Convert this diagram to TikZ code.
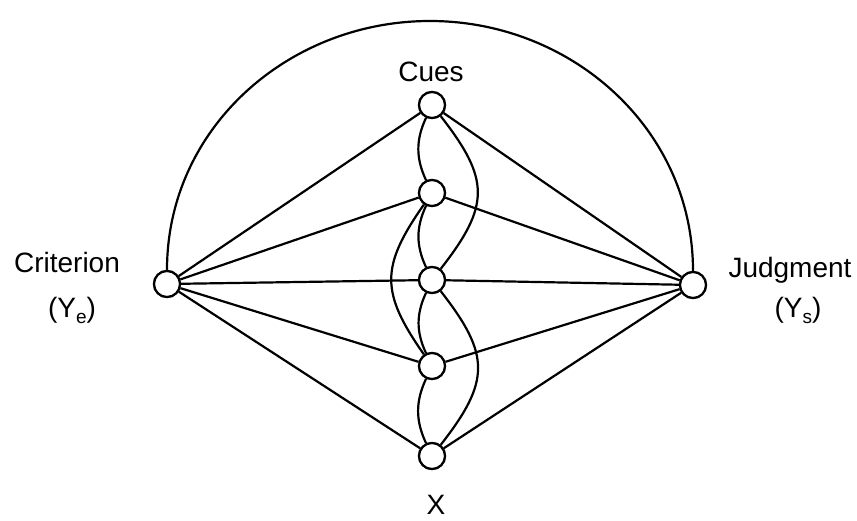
\documentclass[tikz,border=0pt]{standalone}
\usepackage{fontspec}
\setmainfont{Liberation Sans}
\begin{document}
\begin{tikzpicture}[x=1pt,y=1pt,
  cue/.style={circle,draw,line width=2.2pt,minimum size=26pt,inner sep=0pt,fill=white},
  link/.style={line width=2.2pt},
  lbl/.style={font=\fontsize{28}{32}\selectfont,inner sep=0pt}]
\useasboundingbox (0,0) rectangle (857,520);
% nodes
\node[cue] (crit) at (167,236) {};
\node[cue] (judg) at (693,235) {};
\node[cue] (c1) at (432,415) {};
\node[cue] (c2) at (432,327) {};
\node[cue] (c3) at (432,240) {};
\node[cue] (c4) at (432,154) {};
\node[cue] (c5) at (432,64) {};
\coordinate (top) at (430,499);
% labels
\node[lbl] (tcues) at (431,448) {Cues};
\node[lbl] (tcrit) at (67,257.5) {Criterion};
\node[lbl] (tye) at (72,210) {(Y\raisebox{-0.4ex}{\fontsize{19}{19}\selectfont e})};
\node[lbl,anchor=base] (tjudg) at (790,242) {Judgment};
\node[lbl] (tys) at (798,210) {(Y\raisebox{-0.4ex}{\fontsize{19}{19}\selectfont s})};
\node[lbl] (tx) at (436,15) {X};
% edges
\foreach \c in {c1,c2,c3,c4,c5}{
  \draw[link] (crit) -- (\c);
  \draw[link] (judg) -- (\c);
}
\draw[link] (crit.north) to[out=90,in=180] (top) to[out=0,in=90] (judg.north);
% small left bulges
\draw[link] (c1) to[out=245,in=115] (c2);
\draw[link] (c2) to[out=245,in=115] (c3);
\draw[link] (c3) to[out=245,in=115] (c4);
\draw[link] (c4) to[out=245,in=115] (c5);
% large right bulges
\draw[link] (c1) to[out=-52,in=52,looseness=1.35] (c3);
\draw[link] (c3) to[out=-52,in=52,looseness=1.35] (c5);
% large left bulge
\draw[link] (c2) to[out=235,in=125,looseness=1.3] (c4);
% redraw circles on top
\foreach \c in {crit,judg,c1,c2,c3,c4,c5}{
  \draw[line width=2.2pt,fill=white] (\c) circle (13pt);
}
\end{tikzpicture}
\end{document}
